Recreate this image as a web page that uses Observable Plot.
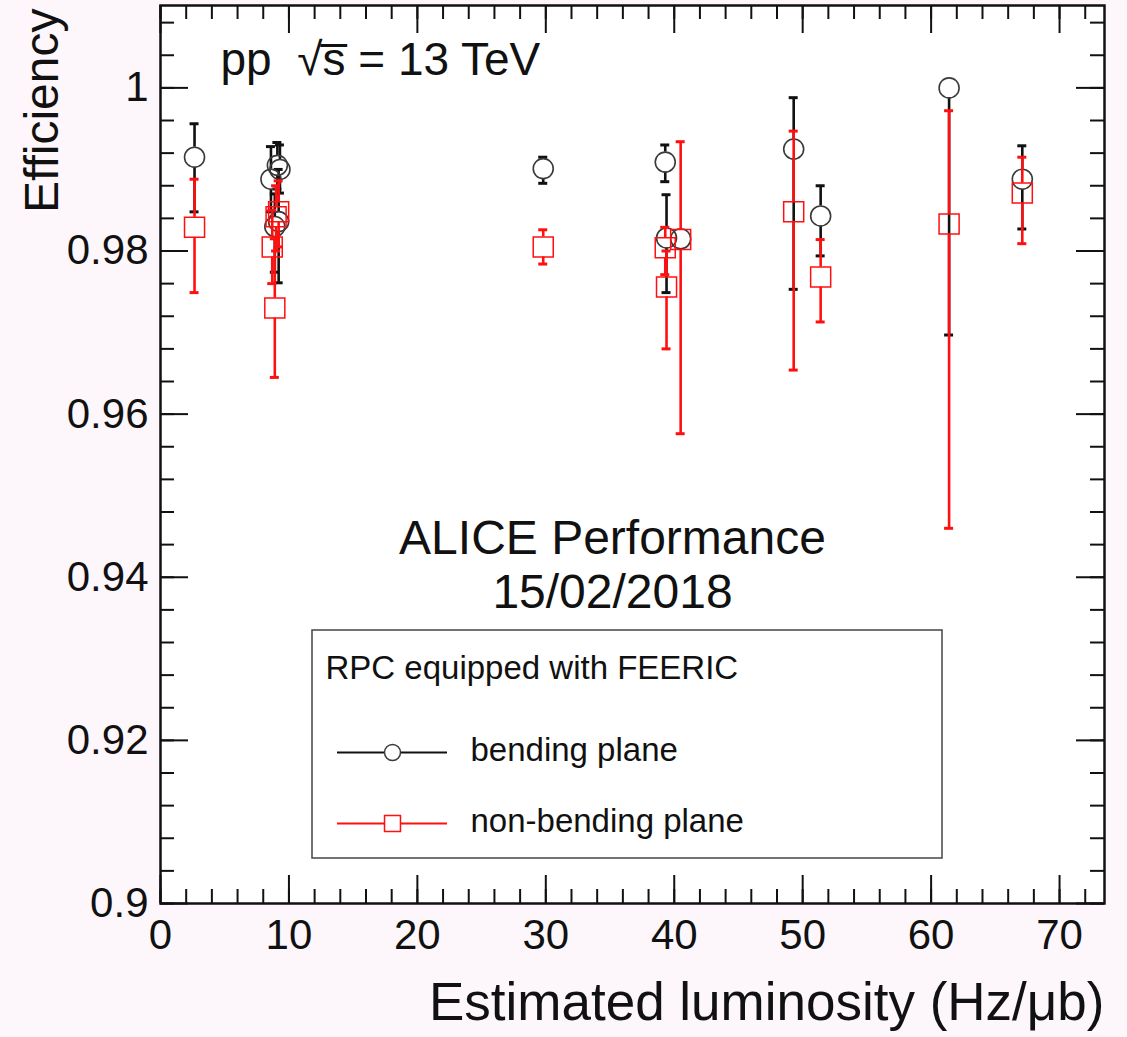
<!DOCTYPE html>
<html><head><meta charset="utf-8">
<script src="https://cdn.jsdelivr.net/npm/d3@7"></script>
<script src="https://cdn.jsdelivr.net/npm/@observablehq/plot@0.6"></script>
<style>
html,body{margin:0;padding:0;background:#fdf7fc;}
#chart{position:absolute;left:0;top:0;}
</style></head><body><div id="chart"></div>
<script>
// ---- data: bending plane (black circles) ----
const bendX  = [2.65, 8.6, 9.3, 9.1, 8.9, 9.2, 29.8, 39.3, 39.4, 40.5, 49.3, 51.4, 61.4, 67.1];
const bendY  = [0.9915, 0.9888, 0.9900, 0.9905, 0.9830, 0.9836, 0.9901, 0.9909, 0.9816, 0.9815, 0.9925, 0.9843, 1.0000, 0.9888];
const bendLo = [0.9848, 0.9848, 0.9871, 0.9876, 0.9774, 0.9761, 0.9883, 0.9885, 0.9749, 0.9810, 0.9753, 0.9794, 0.9697, 0.9827];
const bendHi = [0.9956, 0.9928, 0.9930, 0.9933, 0.9870, 0.9900, 0.9915, 0.9930, 0.9869, 0.9820, 0.9988, 0.9880, 1.0000, 0.9929];
// ---- data: non-bending plane (red squares) ----
const nbX  = [2.65, 8.7, 9.2, 9.0, 8.9, 29.8, 39.3, 39.4, 40.5, 49.3, 51.4, 61.4, 67.1];
const nbY  = [0.9829, 0.9805, 0.9848, 0.9842, 0.9730, 0.9805, 0.9804, 0.9756, 0.9814, 0.9848, 0.9768, 0.9833, 0.9871];
const nbLo = [0.9749, 0.9760, 0.9805, 0.9800, 0.9645, 0.9784, 0.9771, 0.9680, 0.9576, 0.9654, 0.9713, 0.9460, 0.9809];
const nbHi = [0.9888, 0.9850, 0.9886, 0.9880, 0.9815, 0.9826, 0.9829, 0.9800, 0.9934, 0.9947, 0.9814, 0.9972, 0.9915];
// ---- ticks ----
const xMajor = [0, 10, 20, 30, 40, 50, 60, 70];
const xMinor = d3.range(0, 74, 2);
const yMajor = [0.9, 0.92, 0.94, 0.96, 0.98, 1.0];
const yMinor = d3.range(0, 28).map(i => 0.9 + i * 0.004);
const xTitle = "Estimated luminosity (Hz/\u03bcb)";
const yTitle = "Efficiency";
const legendTitle = "RPC equipped with FEERIC";
const seriesNames = ["bending plane", "non-bending plane"];

const W = 1127, H = 1037, mL = 160, mR = 23, mT = 5, mB = 134;
const xDomain = [0, 73.5], yDomain = [0.9, 1.0101];
const iw = W - mL - mR, ih = H - mT - mB;
const kx = (xDomain[1] - xDomain[0]) / iw, ky = (yDomain[1] - yDomain[0]) / ih;
const px2x = p => xDomain[0] + (p - mL) * kx;
const py2y = p => yDomain[1] - (p - mT) * ky;

const bend = bendX.map((x, i) => ({x, y: bendY[i], lo: bendLo[i], hi: bendHi[i]}));
const nb = nbX.map((x, i) => ({x, y: nbY[i], lo: nbLo[i], hi: nbHi[i]}));

const font = "'Liberation Sans', Arial, Helvetica, sans-serif";
const BLACK = "#111", CIRC = "#3a3a3a", RED = "#ff1010";
const gap = 10 * ky;

function errorMarks(data, color) {
  return [
    Plot.ruleX(data.filter(d => d.y - gap > d.lo), {x: "x", y1: "lo", y2: d => d.y - gap, stroke: color, strokeWidth: 2.6}),
    Plot.ruleX(data.filter(d => d.hi > d.y + gap), {x: "x", y1: d => d.y + gap, y2: "hi", stroke: color, strokeWidth: 2.6}),
    Plot.ruleY(data.filter(d => d.y - gap > d.lo), {y: "lo", x1: d => d.x - 4.5 * kx, x2: d => d.x + 4.5 * kx, stroke: color, strokeWidth: 3}),
    Plot.ruleY(data.filter(d => d.hi > d.y + gap), {y: "hi", x1: d => d.x - 4.5 * kx, x2: d => d.x + 4.5 * kx, stroke: color, strokeWidth: 3})
  ];
}

const fmt = d => String(+d.toFixed(2));

const chart = Plot.plot({
  width: W, height: H,
  marginLeft: mL, marginRight: mR, marginTop: mT, marginBottom: mB,
  x: {domain: xDomain, axis: null},
  y: {domain: yDomain, axis: null},
  style: {background: "transparent", fontFamily: font, color: "#111"},
  marks: [
    Plot.frame({fill: "white", stroke: null}),
    // ticks inside frame
    Plot.ruleX(xMinor, {x: d => d, y1: yDomain[0], y2: yDomain[0] + 14 * ky, stroke: "#111", strokeWidth: 2}),
    Plot.ruleX(xMajor, {x: d => d, y1: yDomain[0], y2: yDomain[0] + 28 * ky, stroke: "#111", strokeWidth: 2}),
    Plot.ruleX(xMinor, {x: d => d, y1: yDomain[1] - 14 * ky, y2: yDomain[1], stroke: "#111", strokeWidth: 2}),
    Plot.ruleX(xMajor, {x: d => d, y1: yDomain[1] - 28 * ky, y2: yDomain[1], stroke: "#111", strokeWidth: 2}),
    Plot.ruleY(yMinor, {y: d => d, x1: xDomain[0], x2: xDomain[0] + 14 * kx, stroke: "#111", strokeWidth: 2}),
    Plot.ruleY(yMajor, {y: d => d, x1: xDomain[0], x2: xDomain[0] + 28 * kx, stroke: "#111", strokeWidth: 2}),
    Plot.ruleY(yMinor, {y: d => d, x1: xDomain[1] - 14 * kx, x2: xDomain[1], stroke: "#111", strokeWidth: 2}),
    Plot.ruleY(yMajor, {y: d => d, x1: xDomain[1] - 28 * kx, x2: xDomain[1], stroke: "#111", strokeWidth: 2}),
    // data
    ...errorMarks(bend, BLACK),
    Plot.dot(bend, {x: "x", y: "y", r: 10, symbol: "circle", stroke: CIRC, strokeWidth: 1.6, fill: "none"}),
    ...errorMarks(nb, RED),
    Plot.dot(nb, {x: "x", y: "y", r: 11.3, symbol: "square", stroke: RED, strokeWidth: 1.5, fill: "none"}),
    Plot.frame({stroke: "#111", strokeWidth: 2.5}),
    // tick labels
    Plot.text(yMajor, {x: xDomain[0], y: d => d, text: fmt, textAnchor: "end", dx: -12, fontSize: 42, fill: "#111"}),
    Plot.text(xMajor, {x: d => d, y: yDomain[0], text: fmt, dy: 32, fontSize: 42, fill: "#111"}),
    // axis titles
    Plot.text([xTitle], {x: xDomain[1], y: yDomain[0], text: d => d, textAnchor: "end", dy: 100, fontSize: 53, fill: "#111"}),
    Plot.text([yTitle], {x: xDomain[0], y: yDomain[1], text: d => d, textAnchor: "end", rotate: -90, dx: -118, dy: 3, fontSize: 48, fill: "#111"}),
    // annotations
    Plot.text(["pp  \u221as\u0305 = 13 TeV"], {x: px2x(220), y: py2y(60), text: d => d, textAnchor: "start", fontSize: 46, fill: "#111"}),
    Plot.text(["ALICE Performance"], {x: px2x(612), y: py2y(538), text: d => d, fontSize: 48, fill: "#111"}),
    Plot.text(["15/02/2018"], {x: px2x(612), y: py2y(592), text: d => d, fontSize: 48, fill: "#111"}),
    // legend
    Plot.rect([0], {x1: px2x(312), x2: px2x(942), y1: py2y(858), y2: py2y(630), stroke: "#444", strokeWidth: 1.5, fill: "white"}),
    Plot.text([legendTitle], {x: px2x(325), y: py2y(668), text: d => d, textAnchor: "start", fontSize: 33, fill: "#111"}),
    Plot.ruleY([py2y(752)], {y: d => d, x1: px2x(337), x2: px2x(447), stroke: BLACK, strokeWidth: 2}),
    Plot.dot([0], {x: px2x(392), y: py2y(752), r: 8, symbol: "circle", stroke: CIRC, strokeWidth: 1.5, fill: "white"}),
    Plot.ruleY([py2y(823)], {y: d => d, x1: px2x(337), x2: px2x(447), stroke: RED, strokeWidth: 2}),
    Plot.dot([0], {x: px2x(392), y: py2y(823), r: 9, symbol: "square", stroke: RED, strokeWidth: 1.5, fill: "white"}),
    Plot.text([seriesNames[0]], {x: px2x(470), y: py2y(750), text: d => d, textAnchor: "start", fontSize: 33, fill: "#111"}),
    Plot.text([seriesNames[1]], {x: px2x(470), y: py2y(821), text: d => d, textAnchor: "start", fontSize: 33, fill: "#111"})
  ]
});
document.getElementById("chart").appendChild(chart);
</script></body></html>
